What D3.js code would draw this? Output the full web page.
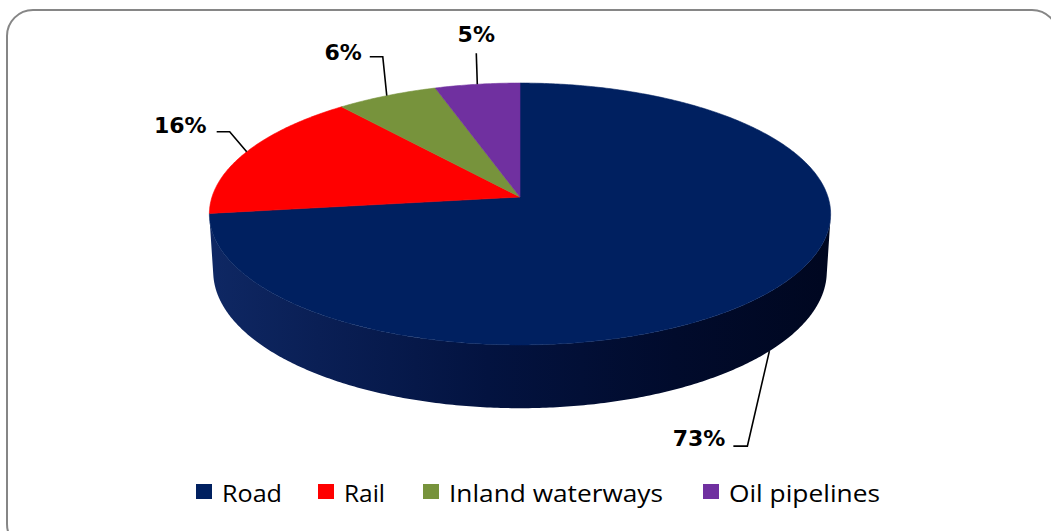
<!DOCTYPE html>
<html>
<head>
<meta charset="utf-8">
<script src="https://cdn.jsdelivr.net/npm/d3@7"></script>
<style>
  html, body { margin: 0; padding: 0; background: #ffffff; }
  svg { display: block; }
</style>
</head>
<body>
<svg id="chart" width="1051" height="531"></svg>
<script>
// Freight transport modal split (share of tonne-km)
const categories = ["Road", "Rail", "Inland waterways", "Oil pipelines"];
const shares = [73, 16, 6, 5];
const labels = ["73%", "16%", "6%", "5%"];
const colors = ["#002060", "#FF0000", "#77933C", "#7030A0"];

const svg = d3.select("#chart");
const W = 1051, H = 531;

// Chart frame with rounded corners
svg.append("rect")
  .attr("x", 7).attr("y", 10)
  .attr("width", 1051).attr("height", 540)
  .attr("rx", 26).attr("ry", 26)
  .attr("fill", "#ffffff")
  .attr("stroke", "#868686")
  .attr("stroke-width", 2);

// ---- 3D pie projection (tilted disc seen in perspective) ----
const cx = 520, cy = 197;      // projected pie centre
const focal = 308;             // screen scale of unit radius at the centre depth
const dist = 7.0;              // camera distance in radii
const tilt = Math.asin(0.418); // elevation angle of the camera
const thick = 0.206;           // pie thickness in radii
const sinT = Math.sin(tilt), cosT = Math.cos(tilt);

// theta: clockwise from 12 o'clock (d3.pie convention), y: height (0 = top face)
function project(theta, r, y) {
  const X = r * Math.sin(theta);
  const Z = r * Math.cos(theta);      // positive = far side
  const depth = dist - y * sinT + Z * cosT;
  const up = y * cosT + Z * sinT;
  const s = focal * dist / depth;
  return [cx + X * s, cy - up * s];
}

const pie = d3.pie().sort(null).value(d => d)(shares);
const line = d3.line();

function arcPoints(a0, a1, y) {
  const n = Math.max(2, Math.ceil(Math.abs(a1 - a0) / 0.01));
  return d3.range(n + 1).map(i => project(a0 + (a1 - a0) * i / n, 1, y));
}

// Side wall: only the front-facing part of the rim is visible
const cosLimit = -1 / (dist * cosT);
const visA = Math.acos(cosLimit);            // left-to-right visible range
const visB = 2 * Math.PI - visA;

const defs = svg.append("defs");
const grad = defs.append("linearGradient")
  .attr("id", "wallShade")
  .attr("gradientUnits", "userSpaceOnUse")
  .attr("x1", 205).attr("y1", 0).attr("x2", 832).attr("y2", 0);
[[0, "#0f2864"], [0.18, "#0a1f55"], [0.45, "#031340"], [0.75, "#010b2c"], [1, "#000720"]]
  .forEach(([o, c]) => grad.append("stop").attr("offset", o).attr("stop-color", c));

const wallG = svg.append("g");
pie.forEach((d, i) => {
  const a0 = Math.max(d.startAngle, visA);
  const a1 = Math.min(d.endAngle, visB);
  if (a1 <= a0) return;
  const top = arcPoints(a0, a1, 0);
  const bottom = arcPoints(a1, a0, -thick);
  wallG.append("path")
    .attr("d", line(top.concat(bottom)) + "Z")
    .attr("fill", i === 0 ? "url(#wallShade)" : d3.color(colors[i]).darker(1.2));
});

// Top faces
const topG = svg.append("g");
pie.forEach((d, i) => {
  const pts = [project(0, 0, 0)].concat(arcPoints(d.startAngle, d.endAngle, 0));
  topG.append("path")
    .attr("d", line(pts) + "Z")
    .attr("fill", colors[i])
    .attr("stroke", colors[i])
    .attr("stroke-width", 0.6);
});

// ---- Data labels with leader lines ----
// anchor: point on the rim at the slice's middle angle (bottom edge for Road)
// elbow / end offsets give the leader shape; text is placed relative to the leader end
const labelLayout = [
  { y: -thick, elbow: [-22, 95], end: [-36, 95], anchor: "end", tx: -8, ty: 0 },
  { y: 0, elbow: [-17, -20], end: [-30, -20], anchor: "end", tx: -10, ty: 1 },
  { y: 0, elbow: [-4, -39], end: [-17, -39], anchor: "end", tx: -8, ty: 3 },
  { y: 0, elbow: [-1, -31], end: [-1, -31], anchor: "middle", tx: 0, ty: -11 }
];

const labG = svg.append("g");
pie.forEach((d, i) => {
  const L = labelLayout[i];
  const mid = (d.startAngle + d.endAngle) / 2;
  const a = project(mid, 1, L.y);
  const e = [a[0] + L.elbow[0], a[1] + L.elbow[1]];
  const t = [a[0] + L.end[0], a[1] + L.end[1]];
  labG.append("path")
    .attr("d", line([a, e, t]))
    .attr("fill", "none")
    .attr("stroke", "#000000")
    .attr("stroke-width", 1.6);
  labG.append("text")
    .attr("x", t[0] + L.tx)
    .attr("y", t[1] + L.ty)
    .attr("text-anchor", L.anchor)
    .attr("font-family", "DejaVu Sans, Verdana, sans-serif")
    .attr("font-weight", "bold")
    .attr("font-size", 22)
    .attr("fill", "#000000")
    .text(labels[i]);
});

// ---- Legend ----
const legendX = [196, 318, 423, 703];
const legendTextW = [60, 41, 214, 151];
const legG = svg.append("g");
categories.forEach((c, i) => {
  legG.append("rect")
    .attr("x", legendX[i]).attr("y", 484)
    .attr("width", 16).attr("height", 15)
    .attr("fill", colors[i]);
  legG.append("text")
    .attr("x", legendX[i] + 26)
    .attr("y", 502)
    .attr("font-family", "Open Sans, sans-serif")
    .attr("font-size", 24)
    .attr("fill", "#000000")
    .attr("textLength", legendTextW[i])
    .attr("lengthAdjust", "spacingAndGlyphs")
    .text(c);
});
</script>
</body>
</html>
